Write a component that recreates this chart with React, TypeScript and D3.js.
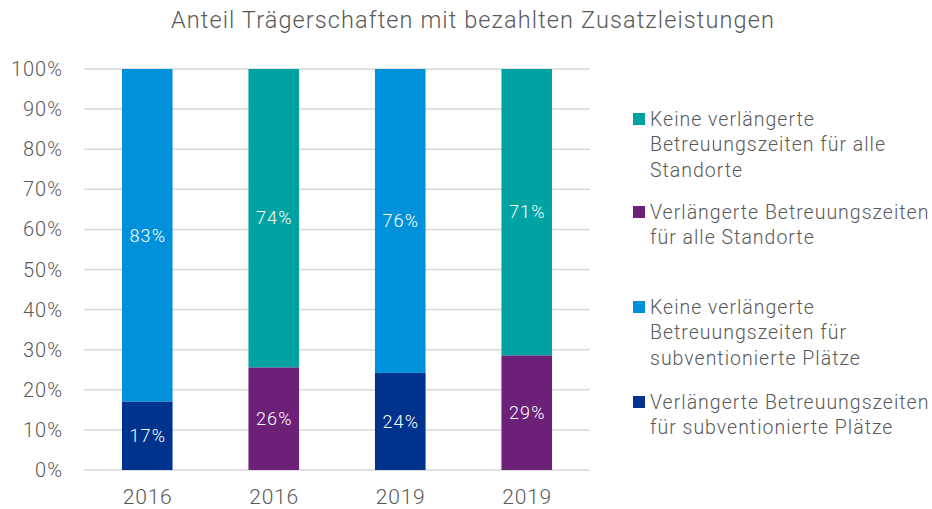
import React from "react";
import * as d3 from "d3";

const categories = ["2016", "2016", "2019", "2019"];
const seriesNames = [
  "Verlängerte Betreuungszeiten für subventionierte Plätze",
  "Keine verlängerte Betreuungszeiten für subventionierte Plätze",
  "Verlängerte Betreuungszeiten für alle Standorte",
  "Keine verlängerte Betreuungszeiten für alle Standorte",
];
const seriesColors = ["#00338D", "#0091DA", "#6D2077", "#00A3A1"];
// values per series per category (percent)
const verlSubv = [17.1, 0, 24.2, 0];
const keineSubv = [82.9, 0, 75.8, 0];
const verlAlle = [0, 25.6, 0, 28.6];
const keineAlle = [0, 74.4, 0, 71.4];
const labelsVerlSubv = ["17%", "", "24%", ""];
const labelsKeineSubv = ["83%", "", "76%", ""];
const labelsVerlAlle = ["", "26%", "", "29%"];
const labelsKeineAlle = ["", "74%", "", "71%"];
const yTicks = [0, 10, 20, 30, 40, 50, 60, 70, 80, 90, 100];

const legendItems = [
  { color: "#00A3A1", lines: ["Keine verlängerte", "Betreuungszeiten für alle", "Standorte"] },
  { color: "#6D2077", lines: ["Verlängerte Betreuungszeiten", "für alle Standorte"] },
  { color: "#0091DA", lines: ["Keine verlängerte", "Betreuungszeiten für", "subventionierte Plätze"] },
  { color: "#00338D", lines: ["Verlängerte Betreuungszeiten", "für subventionierte Plätze"] },
];

export default function App() {
  const W = 932, H = 509;
  const left = 84, right = 590, top = 69, bottom = 470;
  const font = "Roboto, 'Noto Sans', sans-serif";
  const textColor = "#595959";
  const x = d3.scaleBand<number>().domain(d3.range(categories.length)).range([left, right]).paddingInner(0.6).paddingOuter(0.3);
  const y = d3.scaleLinear().domain([0, 100]).range([bottom, top]);
  const seriesVals = [verlSubv, keineSubv, verlAlle, keineAlle];
  const seriesLabels = [labelsVerlSubv, labelsKeineSubv, labelsVerlAlle, labelsKeineAlle];
  const stackData = categories.map((_, i) => {
    const o: any = {};
    seriesVals.forEach((s, k) => (o["s" + k] = s[i]));
    return o;
  });
  const stack = d3.stack().keys(seriesVals.map((_, k) => "s" + k))(stackData);
  const bw = x.bandwidth();
  const legendTops = [119, 212, 307, 402];
  const lineH = 25.5;

  return (
    <svg width={W} height={H} style={{ display: "block", background: "#fff", position: "absolute", top: 0, left: 0 }}>
      <text x={473} y={20} dy="0.35em" textAnchor="middle" fontFamily={font} fontSize={23.5} fill={textColor} fontWeight={300} letterSpacing={1.1}>
        Anteil Trägerschaften mit bezahlten Zusatzleistungen
      </text>
      {yTicks.map((t) => (
        <g key={t}>
          <line x1={left} x2={right} y1={y(t)} y2={y(t)} stroke="#d9d9d9" strokeWidth={1.5} />
          <text x={63} y={y(t)} dy="0.35em" textAnchor="end" fontFamily={font} fontSize={20} fill={textColor} fontWeight={300} letterSpacing={1}>
            {t}%
          </text>
        </g>
      ))}
      {stack.map((layer, k) =>
        layer.map((d, i) =>
          d[1] - d[0] > 0 ? (
            <g key={k + "-" + i}>
              <rect x={x(i)!} width={bw} y={y(d[1])} height={y(d[0]) - y(d[1])} fill={seriesColors[k]} />
              <text x={x(i)! + bw / 2 + 0.6} y={(y(d[0]) + y(d[1])) / 2} dy="0.35em" textAnchor="middle" fontFamily={font} fontSize={18} fill="#fff" fontWeight={300} letterSpacing={1.2}>
                {seriesLabels[k][i]}
              </text>
            </g>
          ) : null
        )
      )}
      {categories.map((c, i) => (
        <text key={i} x={x(i)! + bw / 2 + 0.4} y={497} dy="0.35em" textAnchor="middle" fontFamily={font} fontSize={21} fill={textColor} fontWeight={300} letterSpacing={0.8}>
          {c}
        </text>
      ))}
      {legendItems.map((item, j) => (
        <g key={j}>
          <rect x={633} y={legendTops[j] - 6} width={12} height={12} fill={item.color} />
          {item.lines.map((ln, m) => (
            <text key={m} x={650} y={legendTops[j] + m * lineH} dy="0.35em" fontFamily={font} fontSize={19.5} fill={textColor} fontWeight={300} letterSpacing={1}>
              {ln}
            </text>
          ))}
        </g>
      ))}
    </svg>
  );
}
